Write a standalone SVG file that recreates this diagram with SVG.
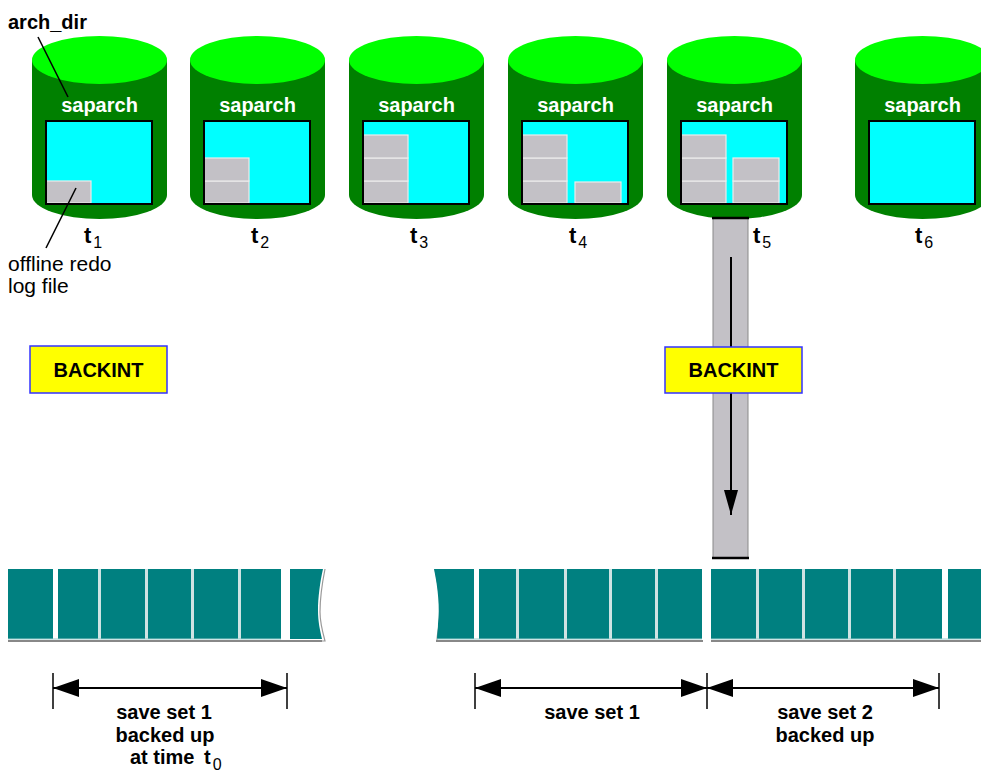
<svg xmlns="http://www.w3.org/2000/svg" width="981" height="775" viewBox="0 0 981 775">
<defs>
<style>
text{font-family:"Liberation Sans",Arial,Helvetica,sans-serif;}
.b{font-weight:bold;}
.body{fill:#008000;}
.top{fill:#00ff00;}
.win{fill:#00ffff;}
.winb{fill:none;stroke:#000;stroke-width:2;}
.blk{fill:#c3c1c6;stroke:#ececec;stroke-width:1.2;}
.lbl{fill:#fff;font-size:20px;font-weight:bold;text-anchor:middle;}
.tl{font-size:22px;font-weight:bold;fill:#000;}
.sub{font-size:16px;font-weight:normal;}
.bk{fill:#ffff00;stroke:#3333ff;stroke-width:1.5;}
.bkt{font-size:20px;font-weight:bold;text-anchor:middle;fill:#000;}
.tp{fill:#008080;}
.sh{stroke:#888;stroke-width:2;}
.dim{stroke:#000;stroke-width:2;fill:none;}
.tick{stroke:#000;stroke-width:1.5;}
.ld{stroke:#000;stroke-width:1.5;}
.dt{font-size:20px;font-weight:bold;text-anchor:middle;fill:#000;}
</style>
<marker id="ah" markerWidth="26" markerHeight="18" refX="26" refY="9" orient="auto-start-reverse" markerUnits="userSpaceOnUse"><path d="M0,0 L26,9 L0,18 Z" fill="#000"/></marker>
<marker id="ah2" markerWidth="25" markerHeight="14" refX="25" refY="7" orient="auto" markerUnits="userSpaceOnUse"><path d="M0,0 L25,7 L0,14 Z" fill="#000"/></marker>
<g id="cylshape">
<rect class="body" x="0" y="60" width="135" height="135"/>
<ellipse class="body" cx="67.5" cy="195" rx="67.5" ry="24"/>
<ellipse class="top" cx="67.5" cy="60" rx="67.5" ry="24"/>
<rect class="win" x="14" y="121" width="106" height="83"/>
</g>
</defs>
<rect width="981" height="775" fill="#fff"/>

<g id="cyl1">
<use href="#cylshape" x="32" y="0"/>
<rect class="blk" x="46" y="181" width="45" height="22"/>
<rect class="winb" x="46" y="121" width="106" height="83"/>
<text class="lbl" x="99.5" y="112">saparch</text>
<text class="tl" x="84" y="243">t<tspan class="sub" dx="2" dy="5">1</tspan></text>
</g>
<g id="cyl2">
<use href="#cylshape" x="190" y="0"/>
<rect class="blk" x="204" y="181" width="45" height="22"/>
<rect class="blk" x="204" y="158" width="45" height="23"/>
<rect class="winb" x="204" y="121" width="106" height="83"/>
<text class="lbl" x="257.5" y="112">saparch</text>
<text class="tl" x="251" y="243">t<tspan class="sub" dx="2" dy="5">2</tspan></text>
</g>
<g id="cyl3">
<use href="#cylshape" x="349" y="0"/>
<rect class="blk" x="363" y="181" width="45" height="22"/>
<rect class="blk" x="363" y="158" width="45" height="23"/>
<rect class="blk" x="363" y="135" width="45" height="23"/>
<rect class="winb" x="363" y="121" width="106" height="83"/>
<text class="lbl" x="416.5" y="112">saparch</text>
<text class="tl" x="410" y="243">t<tspan class="sub" dx="2" dy="5">3</tspan></text>
</g>
<g id="cyl4">
<use href="#cylshape" x="508" y="0"/>
<rect class="blk" x="522" y="181" width="45" height="22"/>
<rect class="blk" x="522" y="158" width="45" height="23"/>
<rect class="blk" x="522" y="135" width="45" height="23"/>
<rect class="blk" x="575" y="182" width="46" height="21"/>
<rect class="winb" x="522" y="121" width="106" height="83"/>
<text class="lbl" x="575.5" y="112">saparch</text>
<text class="tl" x="569" y="243">t<tspan class="sub" dx="2" dy="5">4</tspan></text>
</g>
<g id="cyl5">
<use href="#cylshape" x="667" y="0"/>
<rect class="blk" x="681" y="181" width="45" height="22"/>
<rect class="blk" x="681" y="158" width="45" height="23"/>
<rect class="blk" x="681" y="135" width="45" height="23"/>
<rect class="blk" x="733" y="181" width="46" height="22"/>
<rect class="blk" x="733" y="158" width="46" height="23"/>
<rect class="winb" x="681" y="121" width="106" height="83"/>
<text class="lbl" x="734.5" y="112">saparch</text>
<text class="tl" x="753" y="243">t<tspan class="sub" dx="2" dy="5">5</tspan></text>
</g>
<g id="cyl6">
<use href="#cylshape" x="855" y="0"/>
<rect class="winb" x="869" y="121" width="106" height="83"/>
<text class="lbl" x="922.5" y="112">saparch</text>
<text class="tl" x="915" y="243">t<tspan class="sub" dx="2" dy="5">6</tspan></text>
</g>

<g id="labels">
<text class="b" x="8" y="29" font-size="20">arch_dir</text>
<text x="8" y="271" font-size="21">offline redo</text>
<text x="8" y="293" font-size="21">log file</text>
</g>

<g id="transfer">
<rect x="713" y="218" width="35" height="340" fill="#c3c1c6" stroke="#8a8a8a" stroke-width="1"/>
<line x1="712" y1="218" x2="749" y2="218" stroke="#000" stroke-width="2.5"/>
<line x1="712" y1="558" x2="749" y2="558" stroke="#000" stroke-width="2.5"/>
</g>

<g id="connectors">
<line class="ld" x1="38" y1="37" x2="68" y2="97"/>
<line class="ld" x1="76" y1="188" x2="46" y2="248"/>
<line x1="731" y1="257" x2="731" y2="515" stroke="#000" stroke-width="2" marker-end="url(#ah2)"/>
<line class="dim" x1="53" y1="688" x2="287" y2="688" marker-start="url(#ah)" marker-end="url(#ah)"/>
<line class="dim" x1="475" y1="688" x2="707" y2="688" marker-start="url(#ah)" marker-end="url(#ah)"/>
<line class="dim" x1="707" y1="688" x2="939" y2="688" marker-start="url(#ah)" marker-end="url(#ah)"/>
<line class="tick" x1="53" y1="673" x2="53" y2="709"/>
<line class="tick" x1="287" y1="673" x2="287" y2="709"/>
<line class="tick" x1="475" y1="673" x2="475" y2="709"/>
<line class="tick" x1="707" y1="673" x2="707" y2="709"/>
<line class="tick" x1="939" y1="673" x2="939" y2="709"/>
</g>

<g id="backint1">
<rect class="bk" x="30" y="346" width="137" height="47"/>
<text class="bkt" x="98.5" y="377">BACKINT</text>
</g>
<g id="backint2">
<rect class="bk" x="665" y="347" width="137" height="46"/>
<text class="bkt" x="733.5" y="377">BACKINT</text>
</g>

<g id="tape-left">
<rect x="8" y="569" width="273" height="70" fill="#cfe3e3"/>
<rect x="53" y="569" width="5" height="70" fill="#fff"/>
<rect class="tp" x="8" y="569" width="45" height="70"/>
<rect class="tp" x="58" y="569" width="40" height="70"/>
<rect class="tp" x="101" y="569" width="44" height="70"/>
<rect class="tp" x="148" y="569" width="43" height="70"/>
<rect class="tp" x="194" y="569" width="44" height="70"/>
<rect class="tp" x="241" y="569" width="40" height="70"/>
<path d="M292,641 H325 C322,630 320,622 320,612 C320,598 322,584 325,569" fill="none" stroke="#999" stroke-width="1.2"/>
<path class="tp" d="M290,569 H323 C320,582 318,598 318,610 C318,622 320,630 322,639 H290 Z"/>
<line class="sh" x1="8" y1="641" x2="322" y2="641"/>
<line x1="8" y1="639" x2="281" y2="639" stroke="#9cc" stroke-width="1"/>
</g>

<g id="tape-middle">
<rect x="479" y="569" width="223" height="70" fill="#cfe3e3"/>
<path d="M435,569 C439,588 441,608 439,624 C438,632 437,636 437,641" fill="none" stroke="#999" stroke-width="1.2"/>
<path class="tp" d="M434,569 H474 V639 H437 C437,634 438,630 438,624 C440,608 438,588 434,569 Z"/>
<rect class="tp" x="479" y="569" width="37" height="70"/>
<rect class="tp" x="519" y="569" width="45" height="70"/>
<rect class="tp" x="567" y="569" width="42" height="70"/>
<rect class="tp" x="612" y="569" width="43" height="70"/>
<rect class="tp" x="658" y="569" width="44" height="70"/>
<line class="sh" x1="436" y1="641" x2="703" y2="641"/>
<line x1="437" y1="639" x2="702" y2="639" stroke="#9cc" stroke-width="1"/>
</g>

<g id="tape-right">
<rect x="711" y="569" width="231" height="70" fill="#cfe3e3"/>
<rect class="tp" x="711" y="569" width="45" height="70"/>
<rect class="tp" x="759" y="569" width="43" height="70"/>
<rect class="tp" x="805" y="569" width="43" height="70"/>
<rect class="tp" x="851" y="569" width="42" height="70"/>
<rect class="tp" x="896" y="569" width="46" height="70"/>
<rect class="tp" x="948" y="569" width="33" height="70"/>
<line class="sh" x1="711" y1="641" x2="981" y2="641"/>
<line x1="711" y1="639" x2="981" y2="639" stroke="#9cc" stroke-width="1"/>
</g>

<g id="dim-labels">
<text class="dt" x="164" y="719">save set 1</text>
<text class="dt" x="165" y="742">backed up</text>
<text class="b" x="130" y="764" font-size="20">at time<tspan x="204">t</tspan><tspan font-weight="normal" font-size="16" dx="2" dy="6">0</tspan></text>
<text class="dt" x="592" y="719">save set 1</text>
<text class="dt" x="825" y="719">save set 2</text>
<text class="dt" x="825" y="742">backed up</text>
</g>
</svg>
